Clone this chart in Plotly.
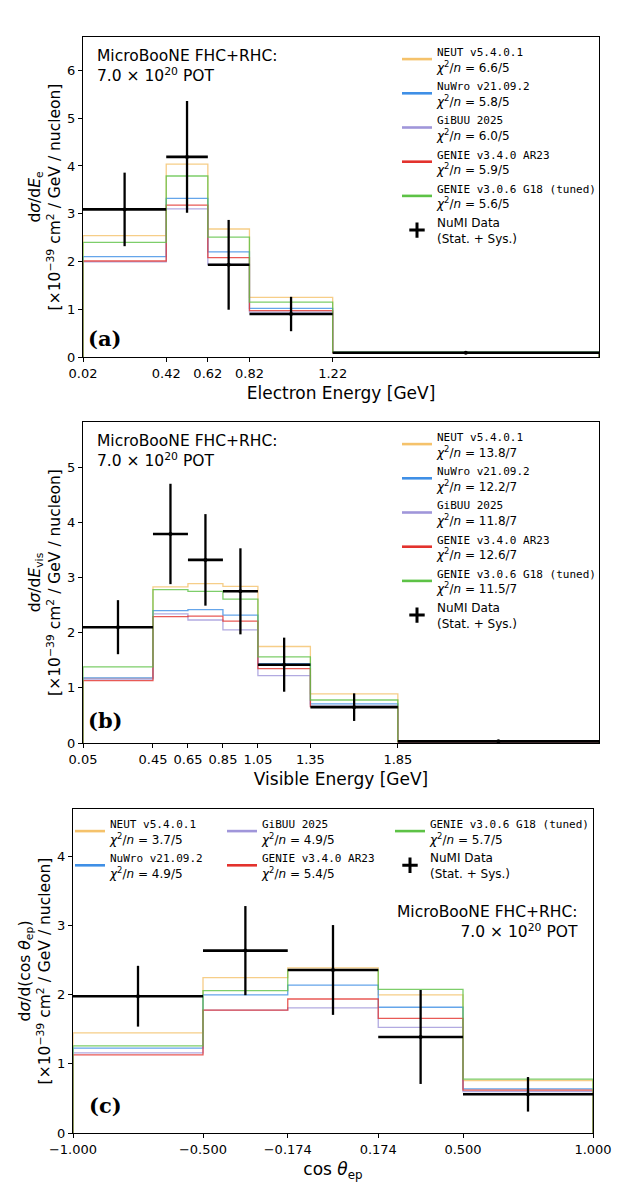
import numpy as np
import plotly.graph_objects as go

W, H = 634, 1190
OFF = 8  # page body margin in the browser
FW, FH = W - OFF, H - OFF

models = ["NEUT v5.4.0.1", "NuWro v21.09.2", "GiBUU 2025", "GENIE v3.4.0 AR23", "GENIE v3.0.6 G18 (tuned)"]
colors = ["#F5C26B", "#3F8FE6", "#A096DA", "#E3322D", "#5DC246"]

# ---- Panel (a): electron energy ----
edges_a = [0.02, 0.42, 0.62, 0.82, 1.22, 2.5]
neut_a = [2.54, 4.04, 2.68, 1.25, 0.10]
nuwro_a = [2.10, 3.32, 2.20, 1.02, 0.10]
gibuu_a = [1.99, 3.10, 1.94, 0.94, 0.09]
ar23_a = [2.01, 3.18, 2.08, 0.97, 0.09]
g18_a = [2.40, 3.79, 2.51, 1.15, 0.10]
data_a = [3.09, 4.19, 1.93, 0.90, 0.09]
err_a = [0.77, 1.17, 0.94, 0.36, 0.01]
chi2_a = ["6.6/5", "5.8/5", "6.0/5", "5.9/5", "5.6/5"]
ticks_a = ["0.02", "0.42", "0.62", "0.82", "1.22"]

# ---- Panel (b): visible energy ----
edges_b = [0.05, 0.45, 0.65, 0.85, 1.05, 1.35, 1.85, 3.0]
neut_b = [1.17, 2.83, 2.89, 2.84, 1.75, 0.89, 0.03]
nuwro_b = [1.18, 2.40, 2.42, 2.32, 1.44, 0.71, 0.03]
gibuu_b = [1.16, 2.34, 2.23, 2.05, 1.22, 0.67, 0.02]
ar23_b = [1.13, 2.29, 2.30, 2.21, 1.35, 0.66, 0.02]
g18_b = [1.38, 2.78, 2.75, 2.61, 1.56, 0.78, 0.03]
data_b = [2.10, 3.79, 3.32, 2.75, 1.42, 0.65, 0.03]
err_b = [0.49, 0.91, 0.83, 0.78, 0.49, 0.25, 0.01]
chi2_b = ["13.8/7", "12.2/7", "11.8/7", "12.6/7", "11.5/7"]
ticks_b = ["0.05", "0.45", "0.65", "0.85", "1.05", "1.35", "1.85"]

# ---- Panel (c): cos theta_ep ----
edges_c = [-1.0, -0.5, -0.174, 0.174, 0.5, 1.0]
neut_c = [1.45, 2.25, 2.39, 2.00, 0.76]
nuwro_c = [1.23, 2.00, 2.14, 1.82, 0.64]
gibuu_c = [1.16, 1.78, 1.81, 1.53, 0.60]
ar23_c = [1.13, 1.78, 1.94, 1.66, 0.62]
g18_c = [1.26, 2.06, 2.36, 2.08, 0.78]
data_c = [1.98, 2.64, 2.36, 1.39, 0.56]
err_c = [0.44, 0.645, 0.65, 0.68, 0.25]
chi2_c = ["3.7/5", "4.9/5", "4.9/5", "5.4/5", "5.7/5"]
ticks_c = ["\u22121.000", "\u22120.500", "\u22120.174", "0.174", "0.500", "1.000"]

MONO = "DejaVu Sans Mono"
SANS = "DejaVu Sans"


def legend_name(model, chi2):
    return (f'<span style="font-family:{MONO};font-size:11px">{model}</span><br>'
            f'<span style="font-size:12px"><i>χ</i><sup>2</sup>/<i>n</i> = {chi2}</span>')


def data_name():
    return '<span style="font-size:12px">NuMI Data<br>(Stat. + Sys.)</span>'


fig = go.Figure()


def add_panel(edges, series, data, err, chi2, xa, ya, legends):
    edges = np.asarray(edges, dtype=float)
    xs = np.repeat(edges, 2)
    for vals, col in zip(series, colors):
        ys = np.concatenate([[0.0], np.repeat(np.asarray(vals, dtype=float), 2), [0.0]])
        fig.add_trace(go.Scatter(x=xs, y=ys, mode="lines", line=dict(color=col, width=1.3),
                                 opacity=0.8, showlegend=False, xaxis=xa, yaxis=ya,
                                 hoverinfo="skip"))
    centers = 0.5 * (edges[1:] + edges[:-1])
    half = 0.5 * (edges[1:] - edges[:-1])
    fig.add_trace(go.Scatter(
        x=centers, y=data, mode="markers",
        marker=dict(color="black", size=4),
        error_x=dict(type="data", array=half, visible=True, color="black", thickness=2.6, width=0),
        error_y=dict(type="data", array=err, visible=True, color="black", thickness=2.3, width=0),
        showlegend=False, xaxis=xa, yaxis=ya))
    # legend entries
    for i, (m, col, c2) in enumerate(zip(models, colors, chi2)):
        fig.add_trace(go.Scatter(x=[None], y=[None], mode="lines", line=dict(color=col, width=2.6),
                                 name=legend_name(m, c2), legend=legends[i], xaxis=xa, yaxis=ya))
    fig.add_trace(go.Scatter(x=[None], y=[None], mode="markers",
                             marker=dict(symbol="cross-thin", size=11, color="black",
                                         line=dict(color="black", width=3)),
                             name=data_name(), legend=legends[5], xaxis=xa, yaxis=ya))


add_panel(edges_a, [neut_a, nuwro_a, gibuu_a, ar23_a, g18_a], data_a, err_a, chi2_a,
          "x", "y", ["legend"] * 6)
add_panel(edges_b, [neut_b, nuwro_b, gibuu_b, ar23_b, g18_b], data_b, err_b, chi2_b,
          "x2", "y2", ["legend2"] * 6)
add_panel(edges_c, [neut_c, nuwro_c, gibuu_c, ar23_c, g18_c], data_c, err_c, chi2_c,
          "x3", "y3", ["legend3", "legend3", "legend4", "legend4", "legend5", "legend5"])


def px_x(p):
    return (p - OFF) / FW


def px_y(p):
    return 1 - (p - OFF) / FH


axis_common = dict(showline=True, linecolor="black", linewidth=1, mirror=True,
                   ticks="outside", ticklen=4, tickcolor="black", tickwidth=1,
                   showgrid=False, zeroline=False, automargin=False,
                   tickfont=dict(family=SANS, size=13, color="black"))

ylab_unit = "[×10<sup>−39</sup> cm<sup>2</sup> / GeV / nucleon]"
xt_font = dict(size=17)
yt_font = dict(size=15.5)

fig.update_layout(
    width=FW, height=FH, margin=dict(l=0, r=0, t=0, b=0, autoexpand=False),
    paper_bgcolor="white", plot_bgcolor="white",
    font=dict(family=SANS, color="black"),
    xaxis=dict(domain=[px_x(83), px_x(599)], range=[0.02, 2.5], anchor="y",
               tickvals=edges_a[:-1], ticktext=ticks_a,
               title=dict(text="Electron Energy [GeV]", font=xt_font, standoff=7),
               **axis_common),
    yaxis=dict(domain=[px_y(357), px_y(37)], range=[0, 6.7], anchor="x",
               tickvals=[0, 1, 2, 3, 4, 5, 6],
               title=dict(text="d<i>σ</i>/d<i>E</i><sub>e</sub><br>" + ylab_unit,
                          font=yt_font, standoff=2),
               **axis_common),
    xaxis2=dict(domain=[px_x(83), px_x(599)], range=[0.05, 3.0], anchor="y2",
                tickvals=edges_b[:-1], ticktext=ticks_b,
                title=dict(text="Visible Energy [GeV]", font=xt_font, standoff=7),
                **axis_common),
    yaxis2=dict(domain=[px_y(743), px_y(422)], range=[0, 5.82], anchor="x2",
                tickvals=[0, 1, 2, 3, 4, 5],
                title=dict(text="d<i>σ</i>/d<i>E</i><sub>vis</sub><br>" + ylab_unit,
                           font=yt_font, standoff=2),
                **axis_common),
    xaxis3=dict(domain=[px_x(73), px_x(593)], range=[-1, 1], anchor="y3",
                tickvals=edges_c, ticktext=ticks_c,
                title=dict(text="cos <i>θ</i><sub>ep</sub>", font=xt_font, standoff=7),
                **axis_common),
    yaxis3=dict(domain=[px_y(1133), px_y(809)], range=[0, 4.69], anchor="x3",
                tickvals=[0, 1, 2, 3, 4],
                title=dict(text="d<i>σ</i>/d(cos <i>θ</i><sub>ep</sub>)<br>" + ylab_unit,
                           font=yt_font, standoff=2),
                **axis_common),
)

leg_common = dict(xanchor="left", yanchor="top", bgcolor="rgba(0,0,0,0)", borderwidth=0,
                  font=dict(family=SANS, size=12, color="black"), tracegroupgap=0,
                  itemwidth=30, orientation="v")
fig.update_layout(
    legend=dict(x=px_x(397), y=px_y(37), **leg_common),
    legend2=dict(x=px_x(397), y=px_y(422), **leg_common),
    legend3=dict(x=px_x(70), y=px_y(809), **leg_common),
    legend4=dict(x=px_x(222), y=px_y(809), **leg_common),
    legend5=dict(x=px_x(390), y=px_y(809), **leg_common),
)

ann_font = dict(family=SANS, size=15.5, color="black")
lab_font = dict(family="DejaVu Serif", size=21, color="black")
fig.update_layout(annotations=[
    dict(text="MicroBooNE FHC+RHC:<br>7.0 × 10<sup>20</sup> POT", xref="paper", yref="paper",
         x=px_x(95), y=px_y(45), xanchor="left", yanchor="top", align="left",
         showarrow=False, font=ann_font),
    dict(text="MicroBooNE FHC+RHC:<br>7.0 × 10<sup>20</sup> POT", xref="paper", yref="paper",
         x=px_x(95), y=px_y(430), xanchor="left", yanchor="top", align="left",
         showarrow=False, font=ann_font),
    dict(text="MicroBooNE FHC+RHC:<br>7.0 × 10<sup>20</sup> POT", xref="paper", yref="paper",
         x=px_x(580), y=px_y(901), xanchor="right", yanchor="top", align="right",
         showarrow=False, font=ann_font),
    dict(text="<b>(a)</b>", xref="paper", yref="paper", x=px_x(86), y=px_y(339),
         xanchor="left", yanchor="middle", showarrow=False, font=lab_font),
    dict(text="<b>(b)</b>", xref="paper", yref="paper", x=px_x(86), y=px_y(720),
         xanchor="left", yanchor="middle", showarrow=False, font=lab_font),
    dict(text="<b>(c)</b>", xref="paper", yref="paper", x=px_x(87), y=px_y(1105),
         xanchor="left", yanchor="middle", showarrow=False, font=lab_font),
])

fig.write_html("out.html")
